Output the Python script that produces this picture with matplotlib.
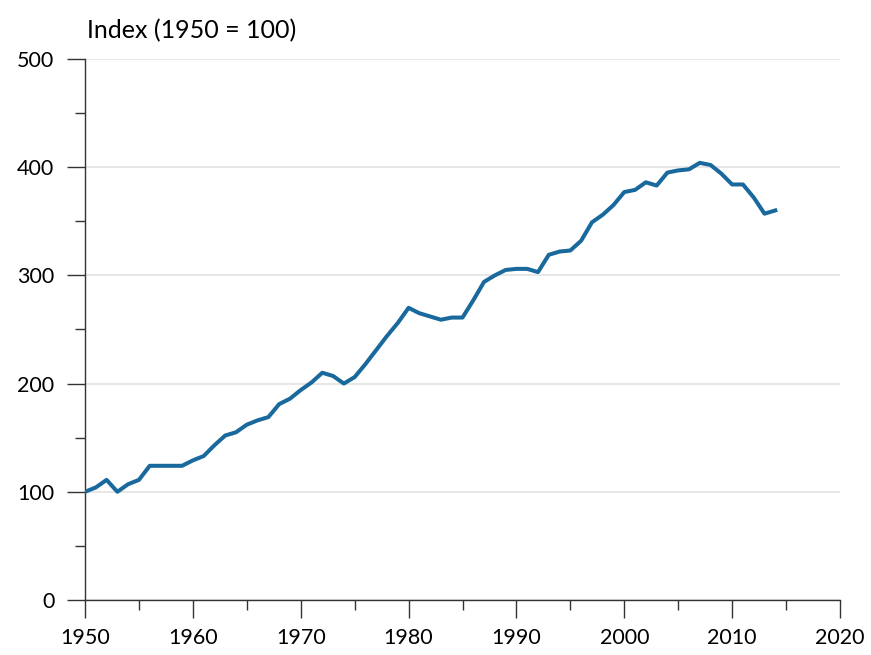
import numpy as np
import matplotlib.pyplot as plt
from matplotlib.ticker import MultipleLocator

plt.rcParams['font.family'] = ['Lato', 'DejaVu Sans']

years = np.arange(1950, 2015)
index = [100, 104, 111, 100, 107, 111, 124, 124, 124, 124,
         129, 133, 143, 152, 155, 162, 166, 169, 181, 186,
         194, 201, 210, 207, 200, 206, 218, 231, 244, 256,
         270, 265, 262, 259, 261, 261, 277, 294, 300, 305,
         306, 306, 303, 319, 322, 323, 332, 349, 356, 365,
         377, 379, 386, 383, 395, 397, 398, 404, 402, 394,
         384, 384, 372, 357, 360]

fig = plt.figure(figsize=(8.71, 6.55), dpi=100)
ax = fig.add_axes([0.0976, 0.084, 0.8668, 0.826])

ax.plot(years, index, color='#19699d', lw=2.9, solid_joinstyle='round', zorder=3)

ax.set_xlim(1950, 2020)
ax.set_ylim(0, 500)
ax.xaxis.set_major_locator(MultipleLocator(10))
ax.xaxis.set_minor_locator(MultipleLocator(5))
ax.yaxis.set_major_locator(MultipleLocator(100))
ax.yaxis.set_minor_locator(MultipleLocator(50))

ax.grid(axis='y', which='major', color='#e3e3e3', lw=1.2, zorder=0)
for s in ['top', 'right']:
    ax.spines[s].set_visible(False)
for s in ['left', 'bottom']:
    ax.spines[s].set_color('#333333')
    ax.spines[s].set_linewidth(1.0)

ax.tick_params(which='major', length=13, width=1.0, color='#333333', labelsize=15.5, pad=7)
ax.tick_params(which='minor', length=7, width=1.0, color='#333333')
ax.tick_params(axis='y', which='major', pad=9)

fig.text(0.1, 0.953, 'Index (1950 = 100)', fontsize=18, ha='left', va='center')

fig.savefig('out.png', dpi=100)
